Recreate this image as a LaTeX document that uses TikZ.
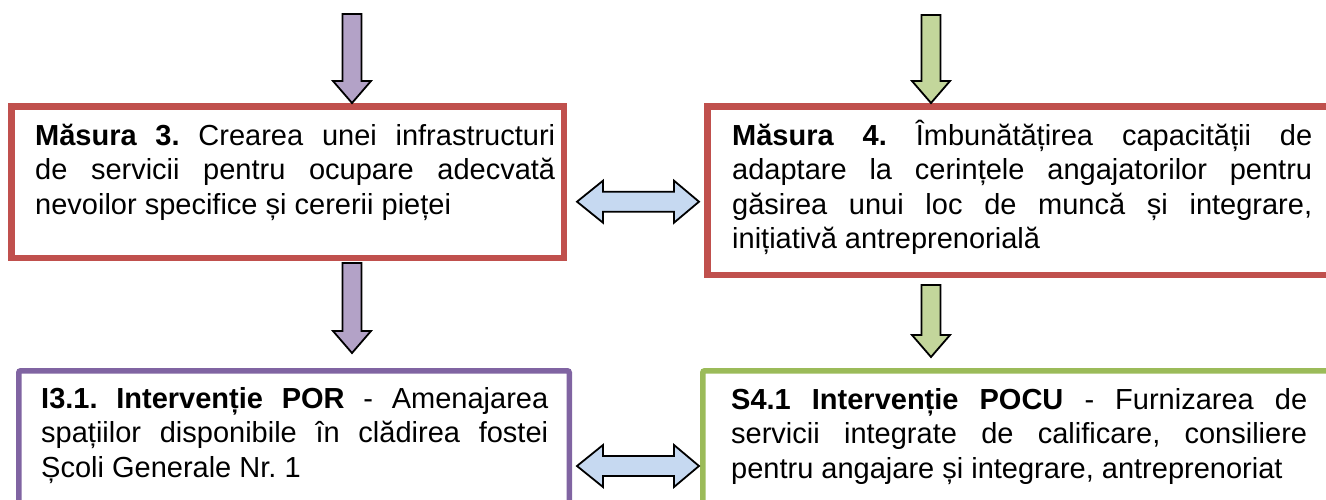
\documentclass[tikz,border=0pt]{standalone}
\usepackage{fontspec}
\setmainfont{Liberation Sans}
\usetikzlibrary{calc}
\frenchspacing
\definecolor{boxred}{HTML}{C0504D}
\definecolor{boxpurple}{HTML}{8064A2}
\definecolor{boxgreen}{HTML}{9BBB59}
\definecolor{fillpurple}{HTML}{B3A2C7}
\definecolor{fillgreen}{HTML}{C3D69B}
\definecolor{fillblue}{HTML}{C6D9F1}
\tikzset{
  mbox/.style={draw=boxred, line width=6.5pt, rectangle, inner sep=0pt, anchor=north west},
  ibox/.style={draw=boxpurple, line width=5.5pt, rectangle, rounded corners=2pt, inner sep=0pt, anchor=north west},
  sbox/.style={draw=boxgreen, line width=5.5pt, rectangle, rounded corners=2pt, inner sep=0pt, anchor=north west},
  txt/.style={inner sep=0pt, anchor=base west, align=justify,
    font=\fontsize{29}{34.5}\selectfont\frenchspacing},
  blk/.style={draw=black, line width=1.8pt, line join=miter},
}
\newcommand\jl[2]{\leavevmode\hbox to #1{#2}}
\newcommand\dnarrow[3]{%
  \draw[blk, fill=#3] let \p1=(#1), \p2=(#2) in
  (\x1-9.5pt,\y1) -- (\x1+9.5pt,\y1) -- (\x1+9.5pt,\y2+22pt) -- (\x1+19pt,\y2+22pt)
  -- (\x1,\y2) -- (\x1-19pt,\y2+22pt) -- (\x1-9.5pt,\y2+22pt) -- cycle;}
\newcommand\lrarrow[3]{%
  \draw[blk, fill=#3] let \p1=(#1), \p2=(#2) in
  (\x1,\y1) -- (\x1+26pt,\y1+21pt) -- (\x1+26pt,\y1+10pt) -- (\x2-25pt,\y1+10pt)
  -- (\x2-25pt,\y1+21pt) -- (\x2,\y1) -- (\x2-25pt,\y1-21pt) -- (\x2-25pt,\y1-10pt)
  -- (\x1+26pt,\y1-10pt) -- (\x1+26pt,\y1-21pt) -- cycle;}
\begin{document}
\begin{tikzpicture}[x=1pt, y=-1pt]
\useasboundingbox (0,0) rectangle (1326,499);
\clip (0,0) rectangle (1326,499);
% boxes
\node[mbox, minimum width=552.5pt, minimum height=151.5pt] (m3box) at (8,103) {};
\node[mbox, minimum width=700pt, minimum height=168.5pt] (m4box) at (704,103) {};
\node[ibox, minimum width=550.5pt, minimum height=200pt] (i3box) at (16,368) {};
\node[sbox, minimum width=700pt, minimum height=200pt] (s4box) at (700,368) {};
% texts
\node[txt, text width=520pt] (m3t) at (35,145) {%
\jl{520pt}{\textbf{Măsura 3.} Crearea unei infrastructuri}\\
\jl{520pt}{de servicii pentru ocupare adecvată}\\
nevoilor specifice și cererii pieței};
\node[txt, text width=580pt] (m4t) at (732,145) {%
\jl{580pt}{\textbf{Măsura 4.} Îmbunătățirea capacității de}\\
\jl{580pt}{adaptare la cerințele angajatorilor pentru}\\
\jl{580pt}{găsirea unui loc de muncă și integrare,}\\
inițiativă antreprenorială};
\node[txt, text width=507pt] (i3t) at (41,408) {%
\jl{507pt}{\textbf{I3.1. Intervenție POR} - Amenajarea}\\
\jl{507pt}{spațiilor disponibile în clădirea fostei}\\
Școli Generale Nr. 1};
\node[txt, text width=576pt] (s4t) at (731,409) {%
\jl{576pt}{\textbf{S4.1 Intervenție POCU} - Furnizarea de}\\
\jl{576pt}{servicii integrate de calificare, consiliere}\\
pentru angajare și integrare, antreprenoriat};
% free ends of the block arrows
\coordinate (p1) at (352,14);
\coordinate (g1) at (931,15);
\coordinate (p2) at ($(m3box.south -| p1)+(0,2)$);
\coordinate (g2) at ($(m4box.south -| g1)+(0,7)$);
\coordinate (p2e) at ($(i3box.north -| p1)+(0,-15)$);
\coordinate (g2e) at ($(s4box.north -| g1)+(0,-11)$);
\coordinate (d1a) at (577,201.7);
\coordinate (d1b) at (699,201.7);
\coordinate (d2a) at (577,466);
\coordinate (d2b) at (699,466);
% arrows
\dnarrow{p1}{p1 |- m3box.north}{fillpurple}
\dnarrow{g1}{g1 |- m4box.north}{fillgreen}
\dnarrow{p2}{p2e}{fillpurple}
\dnarrow{g2}{g2e}{fillgreen}
\lrarrow{d1a}{d1b}{fillblue}
\lrarrow{d2a}{d2b}{fillblue}
\end{tikzpicture}
\end{document}
